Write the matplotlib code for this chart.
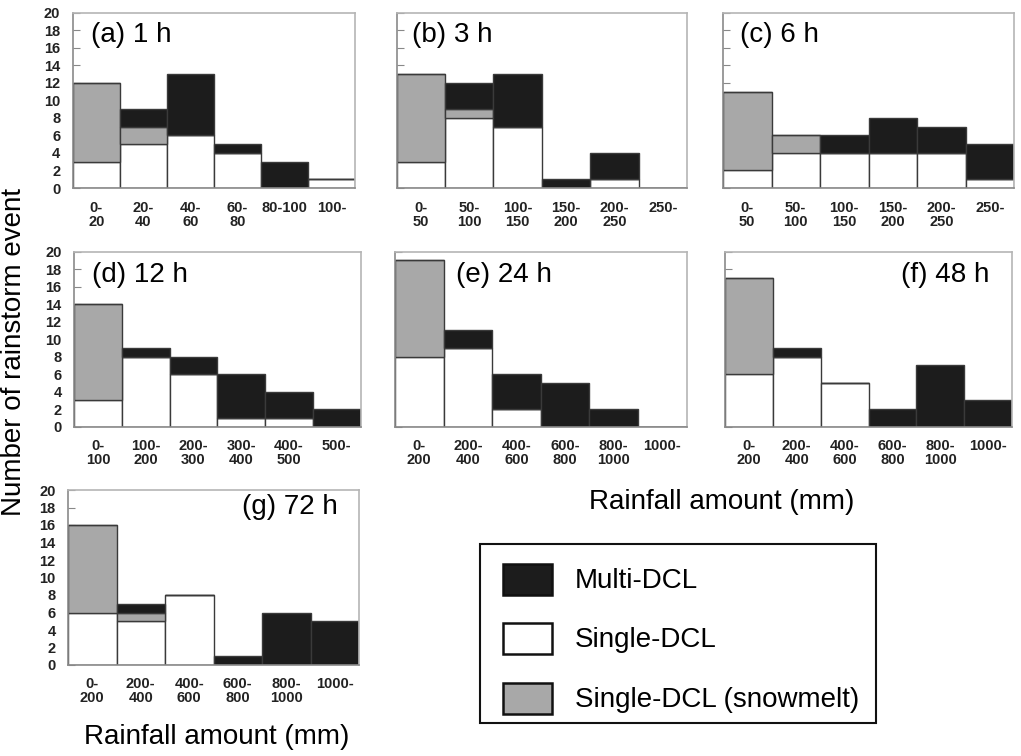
import matplotlib
matplotlib.use("Agg")
import matplotlib.pyplot as plt
from matplotlib.patches import Rectangle
import numpy as np

plt.rcParams['font.family'] = ['Liberation Sans', 'DejaVu Sans']

# ---------------- data ----------------
panel_titles = ["(a) 1 h", "(b) 3 h", "(c) 6 h", "(d) 12 h", "(e) 24 h", "(f) 48 h", "(g) 72 h"]

labels_1h = ["0-\n20", "20-\n40", "40-\n60", "60-\n80", "80-100", "100-"]
labels_3h = ["0-\n50", "50-\n100", "100-\n150", "150-\n200", "200-\n250", "250-"]
labels_6h = ["0-\n50", "50-\n100", "100-\n150", "150-\n200", "200-\n250", "250-"]
labels_12h = ["0-\n100", "100-\n200", "200-\n300", "300-\n400", "400-\n500", "500-"]
labels_24h = ["0-\n200", "200-\n400", "400-\n600", "600-\n800", "800-\n1000", "1000-"]
labels_48h = ["0-\n200", "200-\n400", "400-\n600", "600-\n800", "800-\n1000", "1000-"]
labels_72h = ["0-\n200", "200-\n400", "400-\n600", "600-\n800", "800-\n1000", "1000-"]

# Single-DCL (bottom), Single-DCL snowmelt (middle), Multi-DCL (top)
single_1h = [3, 5, 6, 4, 0, 1]
snow_1h = [9, 2, 0, 0, 0, 0]
multi_1h = [0, 2, 7, 1, 3, 0]

single_3h = [3, 8, 7, 0, 1, 0]
snow_3h = [10, 1, 0, 0, 0, 0]
multi_3h = [0, 3, 6, 1, 3, 0]

single_6h = [2, 4, 4, 4, 4, 1]
snow_6h = [9, 2, 0, 0, 0, 0]
multi_6h = [0, 0, 2, 4, 3, 4]

single_12h = [3, 8, 6, 1, 1, 0]
snow_12h = [11, 0, 0, 0, 0, 0]
multi_12h = [0, 1, 2, 5, 3, 2]

single_24h = [8, 9, 2, 0, 0, 0]
snow_24h = [11, 0, 0, 0, 0, 0]
multi_24h = [0, 2, 4, 5, 2, 0]

single_48h = [6, 8, 5, 0, 0, 0]
snow_48h = [11, 0, 0, 0, 0, 0]
multi_48h = [0, 1, 0, 2, 7, 3]

single_72h = [6, 5, 8, 0, 0, 0]
snow_72h = [10, 1, 0, 0, 0, 0]
multi_72h = [0, 1, 0, 1, 6, 5]

legend_labels = ["Multi-DCL", "Single-DCL", "Single-DCL (snowmelt)"]

# ---------------- style ----------------
W, H = 1021, 756
C_MULTI = "#1c1c1c"
C_SINGLE = "#ffffff"
C_SNOW = "#a8a8a8"
EDGE = "#3a3a3a"

fig = plt.figure(figsize=(W / 100, H / 100), dpi=100)


def px_axes(left, right, top, bottom):
    return fig.add_axes([left / W, 1 - bottom / H, (right - left) / W, (bottom - top) / H])


panels = [
    # left, right, top, bottom, labels, single, snow, multi, show_y, title_pos
    (72.7, 355, 12.7, 188, labels_1h, single_1h, snow_1h, multi_1h, True, ("left", 18, 22)),
    (396.7, 687, 12.7, 188, labels_3h, single_3h, snow_3h, multi_3h, False, ("left", 15, 22)),
    (723, 1014, 12.7, 188, labels_6h, single_6h, snow_6h, multi_6h, False, ("left", 17, 22)),
    (74, 360.7, 251.7, 426.7, labels_12h, single_12h, snow_12h, multi_12h, True, ("left", 18, 23)),
    (395, 686.7, 251.7, 426.7, labels_24h, single_24h, snow_24h, multi_24h, False, ("left", 61, 23)),
    (725, 1012, 251.7, 426.7, labels_48h, single_48h, snow_48h, multi_48h, False, ("right", 23, 23)),
    (68, 359, 490, 665, labels_72h, single_72h, snow_72h, multi_72h, True, ("right", 21, 17)),
]

for i, (l, r, t, b, labs, sg, sn, mu, show_y, tpos) in enumerate(panels):
    ax = px_axes(l, r, t, b)
    x = np.arange(len(labs))
    sg = np.array(sg)
    sn = np.array(sn)
    mu = np.array(mu)
    ax.bar(x, sg, width=1.0, color=C_SINGLE, edgecolor=EDGE, linewidth=1.0, zorder=2)
    ax.bar(x, sn, width=1.0, bottom=sg, color=C_SNOW, edgecolor=EDGE, linewidth=1.0, zorder=2)
    ax.bar(x, mu, width=1.0, bottom=sg + sn, color=C_MULTI, edgecolor=EDGE, linewidth=1.0, zorder=2)
    ax.set_xlim(-0.5, len(labs) - 0.5)
    ax.set_ylim(0, 20)
    ax.set_xticks(x)
    ax.set_xticklabels(labs, fontsize=10.5, fontweight="bold", color="#222222", linespacing=1.0)
    ax.set_yticks(np.arange(0, 21, 2))
    ax.tick_params(axis="x", length=0, pad=9)
    ax.tick_params(axis="y", direction="in", length=5, width=0.8, color="#888888", pad=9,
                   labelsize=10.5)
    if show_y:
        for lab in ax.get_yticklabels():
            lab.set_fontweight("bold")
            lab.set_color("#222222")
    else:
        ax.set_yticklabels([])
    for side in ["left", "bottom"]:
        ax.spines[side].set_color("#8a8a8a")
        ax.spines[side].set_linewidth(1.2)
    for side in ["top", "right"]:
        ax.spines[side].set_color("#b5b5b5")
        ax.spines[side].set_linewidth(1.2)
    side, dx, dy = tpos
    axw = r - l
    axh = b - t
    if side == "left":
        ax.text(dx / axw, 1 - dy / axh, panel_titles[i], transform=ax.transAxes,
                ha="left", va="center", fontsize=20, zorder=5)
    else:
        ax.text(1 - dx / axw, 1 - dy / axh, panel_titles[i], transform=ax.transAxes,
                ha="right", va="center", fontsize=20, zorder=5)

# overlay in pixel coordinates for shared labels and legend
ov = fig.add_axes([0, 0, 1, 1], zorder=-1)
ov.set_xlim(0, W)
ov.set_ylim(H, 0)
ov.axis("off")

ov.text(14, 352, "Number of rainstorm event", rotation=90, ha="center", va="center", fontsize=20)
ov.text(722, 502, "Rainfall amount (mm)", ha="center", va="center", fontsize=20)
ov.text(217, 737, "Rainfall amount (mm)", ha="center", va="center", fontsize=20)

ov.add_patch(Rectangle((480, 544), 396, 179, facecolor="white", edgecolor="#111111", linewidth=1.5))
swatch_colors = [C_MULTI, C_SINGLE, C_SNOW]
swatch_y = [579, 638, 698]
for c, yc, lab in zip(swatch_colors, swatch_y, legend_labels):
    ov.add_patch(Rectangle((503, yc - 15.5), 49, 31, facecolor=c, edgecolor="#111111", linewidth=1.8))
    ov.text(575, yc + 2, lab, ha="left", va="center", fontsize=20)

fig.savefig("out.png", dpi=100)
